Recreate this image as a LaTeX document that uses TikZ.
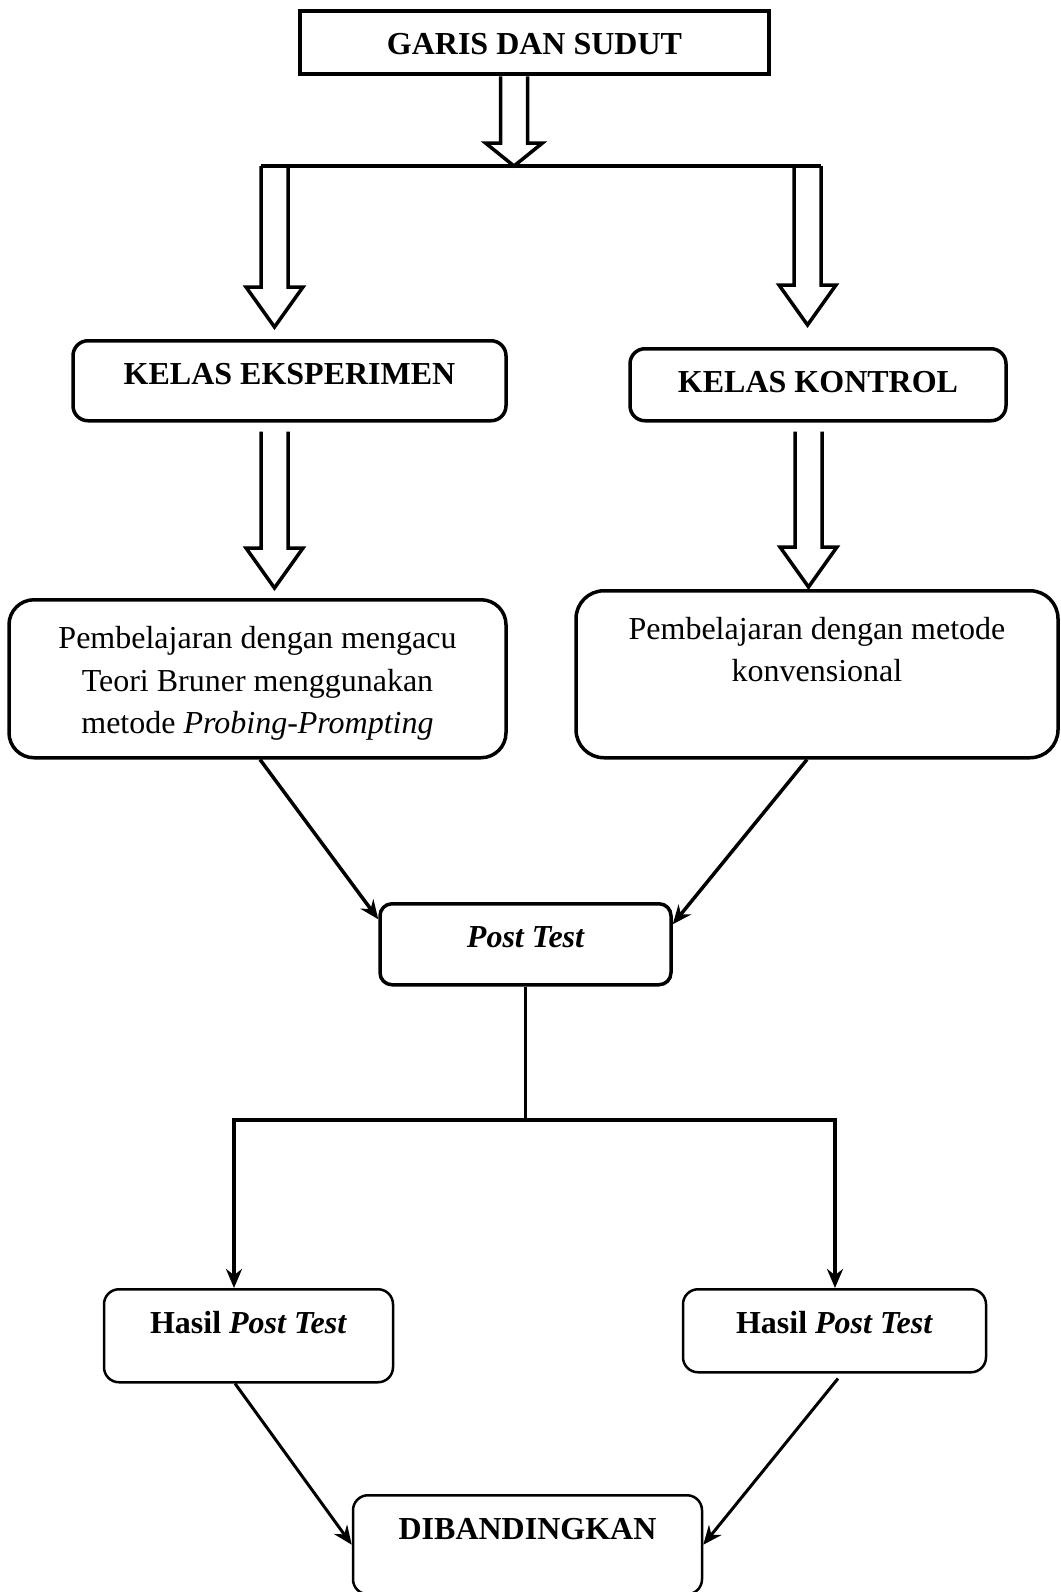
\documentclass[tikz,border=0pt]{standalone}
\usepackage{fontspec}
\setmainfont{Liberation Serif}
\usetikzlibrary{arrows.meta,calc}

% hollow block arrow: shaft from #2 down to the tip at #3, head length #1
\newcommand{\hollowarrow}[3][40]{%
  \draw[hollow] let \p1=(#2), \p2=(#3) in
    (\x1-13.5pt,\y1) -- (\x1-13.5pt,\y2+#1pt) -- (\x1-28.5pt,\y2+#1pt)
    -- (\x1,\y2) -- (\x1+28.5pt,\y2+#1pt) -- (\x1+13.5pt,\y2+#1pt)
    -- (\x1+13.5pt,\y1);}

\begin{document}
\fontsize{32}{42.5}\selectfont
\begin{tikzpicture}[
        x=1pt, y=-1pt,
        box/.style={
            draw,
            line width=3.5pt,
            rounded corners=15pt,
            inner sep=0pt,
            anchor=north,
            align=center,
            text height=44pt
        },
        thinbox/.style={box, line width=2.5pt},
        hollow/.style={line width=3.5pt, line join=miter},
        link/.style={line width=3.5pt},
        flow/.style={-{Stealth[length=19pt,width=16pt]}, line width=3.5pt}
    ]
        \useasboundingbox (0,0) rectangle (1060,1592);

        \node[box, rounded corners=0pt, line width=4.5pt, minimum width=469pt,
            text height=43pt, text depth=20pt, font=\bfseries] (garis) at (534.5,9) {GARIS DAN SUDUT};
        \node[box, minimum width=433pt, text depth=36pt, font=\bfseries] (kelasA) at (289.5,339) {KELAS EKSPERIMEN};
        \node[box, minimum width=376pt, text depth=28pt, font=\bfseries] (kelasB) at (818,347) {KELAS KONTROL};
        \node[box, rounded corners=25pt, minimum width=497pt, text height=134pt, text depth=24pt] (metodeA) at (257.5,598)
            {Pembelajaran dengan mengacu\\Teori Bruner menggunakan\\metode \textit{Probing-Prompting}};
        \node[box, rounded corners=28pt, minimum width=482pt, text height=91pt, text depth=76pt] (metodeB) at (817,589)
            {Pembelajaran dengan metode\\konvensional};
        \node[box, rounded corners=12pt, minimum width=291pt, text depth=37pt, font=\bfseries\itshape] (post) at (525.5,902) {Post Test};
        \node[thinbox, minimum width=289pt, text depth=49pt] (hasilA) at (248.5,1288) {\textbf{Hasil \textit{Post Test}}};
        \node[thinbox, minimum width=303pt, text depth=39pt] (hasilB) at (834.5,1288) {\textbf{Hasil \textit{Post Test}}};
        \node[thinbox, minimum width=349pt, text depth=55pt, font=\bfseries] (banding) at (527.5,1494) {DIBANDINGKAN};

        \coordinate (split1) at (514,166);
        \coordinate (armA) at (274.5,166);
        \coordinate (armB) at (807.5,166);
        \coordinate (split2) at (527,1120);

        % block arrows
        \hollowarrow[23]{[xshift=-20.5pt]garis.south}{split1}
        \draw[link] ([xshift=-13.5pt]armA) -- ([xshift=13.5pt]armB);
        \hollowarrow{armA}{[yshift=12pt]kelasA.north}
        \hollowarrow{armB}{[yshift=22pt]kelasB.north}
        \hollowarrow{[xshift=-15pt,yshift=-9pt]kelasA.south}{[yshift=10pt]metodeA.north}
        \hollowarrow{[xshift=-9.5pt,yshift=-9pt]kelasB.south}{[yshift=2pt]metodeB.north}

        % plain arrows
        \draw[flow] ([xshift=2.5pt]metodeA.south) -- ([yshift=25pt]post.west);
        \draw[flow] ([xshift=-10pt]metodeB.south) -- ([yshift=20pt]post.east);
        \draw[link] (post.south) -- (post.south |- split2);
        \draw[flow] (post.south |- split2) -| ([xshift=-14.5pt]hasilA.north);
        \draw[flow] (post.south |- split2) -| ([xshift=0.5pt]hasilB.north);
        \draw[flow, line width=3pt] ([xshift=-13.5pt]hasilA.south) -- (banding.west);
        \draw[flow, line width=3pt] ([xshift=3.5pt,yshift=-5pt]hasilB.south) -- (banding.east);
    \end{tikzpicture}
\end{document}
